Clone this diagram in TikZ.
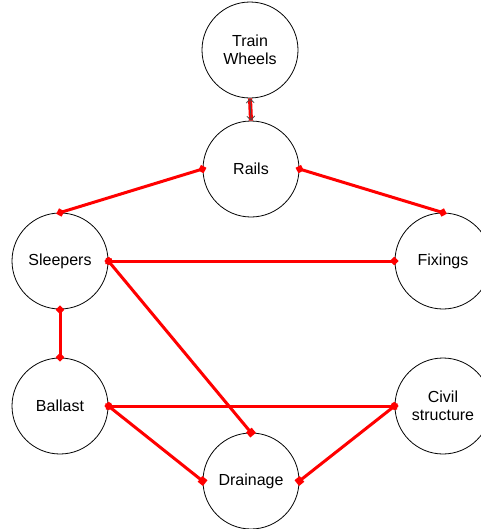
\documentclass[tikz,border=0pt]{standalone}
\usepackage{fontspec}
\setmainfont{Liberation Sans}
\usepackage{tikz}
\usetikzlibrary{arrows.meta}

\begin{document}
\begin{tikzpicture}[
    x=0.75pt, y=-0.75pt,
    part/.style={draw, circle, line width=0.6pt, minimum size=72pt, inner sep=0pt, align=center, font=\fontsize{12}{13.5}\selectfont},
    link/.style={draw=red, line width=2.25pt, shorten <=-3pt, shorten >=-3pt, {Diamond[length=6.5pt,width=6.5pt]}-{Diamond[length=6.5pt,width=6.5pt]}},
    drainlink/.style={draw=red, line width=2.25pt, shorten <=-3pt, shorten >=-2.5pt, {Diamond[length=6.5pt,width=6.5pt]}-{Square[length=5pt,width=5.5pt]}},
    wheelbar/.style={draw=red, line width=3pt},
    wheeltip/.style={draw=black!70, line width=0.6pt, {Straight Barb[length=3pt,width=6pt]}-{Straight Barb[length=3pt,width=6pt]}}
]
\useasboundingbox (0,0) rectangle (481,529);

% Track parts
\node[part] (wheels) at (250,50) {Train\\Wheels};
\node[part] (rails) at (251,169) {Rails};
\node[part] (sleepers) at (60,261) {Sleepers};
\node[part] (fixings) at (443,261) {Fixings};
\node[part] (ballast) at (60,406) {Ballast};
\node[part] (civil) at (443,406) {Civil\\structure};
\node[part] (drainage) at (251,481) {Drainage};

% Wheel-rail contact
\draw[wheelbar] (wheels.south) -- (rails.north);
\draw[wheeltip] (wheels.south) -- (rails.north);

% Links
\draw[link] (rails.west) -- (sleepers.north);
\draw[link] (rails.east) -- (fixings.north);
\draw[link] (sleepers.east) -- (fixings.west);
\draw[link] (sleepers.south) -- (ballast.north);
\draw[link] (ballast.east) -- (civil.west);
\draw[drainlink] (sleepers.east) -- (drainage.north);
\draw[drainlink] (ballast.east) -- (drainage.west);
\draw[drainlink] (civil.west) -- (drainage.east);

\end{tikzpicture}
\end{document}
